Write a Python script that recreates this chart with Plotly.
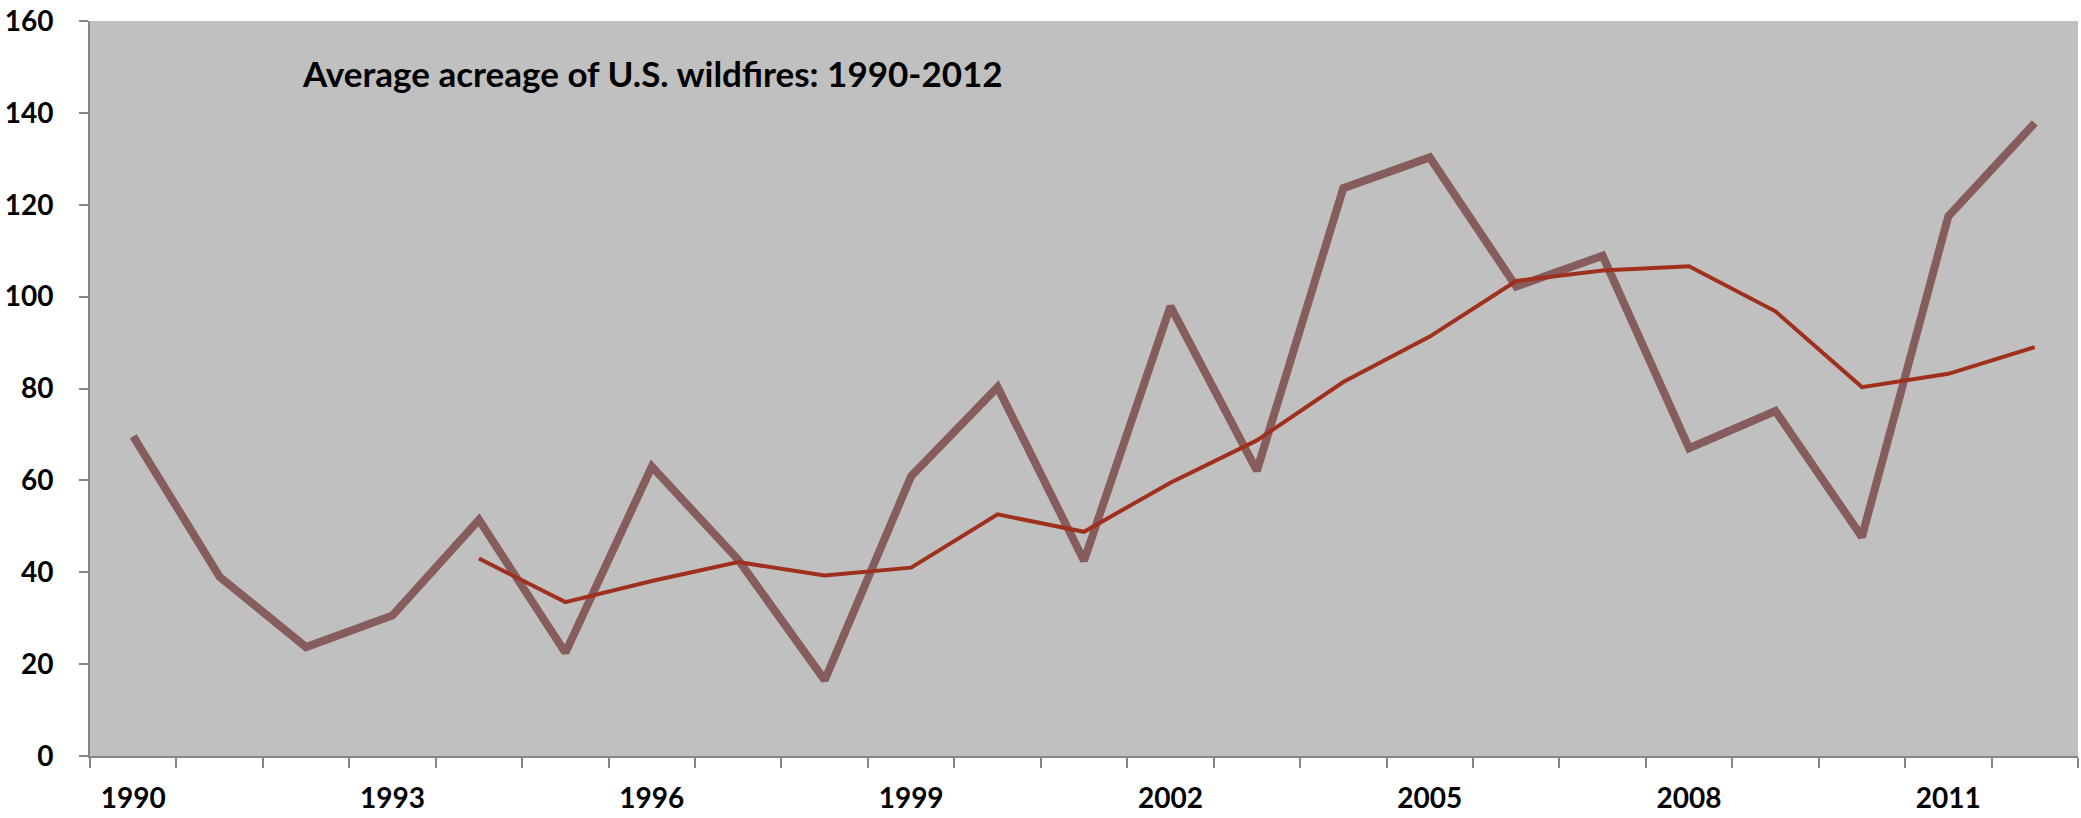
import plotly.graph_objects as go

years = list(range(1990, 2013))
acreage = [69.6, 39.0, 23.7, 30.6, 51.4, 22.5, 63.0, 42.7, 16.5, 60.9, 80.3, 42.5,
           97.9, 62.1, 123.6, 130.3, 102.2, 108.9, 67.0, 75.1, 47.7, 117.5, 137.8]
ma_years = list(range(1994, 2013))
moving_avg = [43.0, 33.5, 38.1, 42.2, 39.3, 41.0, 52.6, 48.8, 59.5, 68.7, 81.4, 91.3,
              103.4, 105.7, 106.6, 96.8, 80.3, 83.2, 89.0]
x_tick_labels = [1990, 1993, 1996, 1999, 2002, 2005, 2008, 2011]
y_ticks = [0, 20, 40, 60, 80, 100, 120, 140, 160]
title_text = "Average acreage of U.S. wildfires: 1990-2012"

FONT = "Lato"

fig = go.Figure()
fig.add_trace(go.Scatter(x=years, y=acreage, mode="lines",
                         line=dict(color="#875C5C", width=8), showlegend=False))
fig.add_trace(go.Scatter(x=ma_years, y=moving_avg, mode="lines",
                         line=dict(color="#A0301E", width=4), showlegend=False))

fig.add_annotation(text="<b>" + title_text + "</b>", xref="paper", yref="paper",
                   x=(300 - 90) / 1988, y=(756 - 73) / 735, xanchor="left", yanchor="middle",
                   showarrow=False, font=dict(family=FONT, size=35, color="black"))

fig.update_layout(
    width=2081, height=818,
    margin=dict(l=90, r=3, t=21, b=62),
    paper_bgcolor="white", plot_bgcolor="#C0C0C0",
    font=dict(family=FONT, color="black"),
)
fig.update_xaxes(
    range=[1989.5, 2012.5], tickvals=x_tick_labels,
    ticktext=["<b>%d</b>" % v for v in x_tick_labels],
    ticks="outside", ticklen=10, tickcolor="rgba(0,0,0,0)",
    showgrid=False, zeroline=False,
    showline=True, linecolor="#868686", linewidth=2,
    tickfont=dict(family=FONT, size=28, color="black"),
    ticklabelstandoff=6,
    minor=dict(tickvals=[1989.5 + i for i in range(24)], ticks="outside",
               ticklen=10, tickcolor="#868686", tickwidth=2, showgrid=False),
)
fig.update_yaxes(
    range=[0, 160], tickvals=y_ticks, ticktext=["<b>%d</b>" % v for v in y_ticks],
    ticks="outside", ticklen=9, tickcolor="#868686", tickwidth=2,
    showgrid=False, zeroline=False,
    showline=True, linecolor="#868686", linewidth=2,
    tickfont=dict(family=FONT, size=28, color="black"),
    ticklabelstandoff=20,
)
fig.write_html("out.html")
